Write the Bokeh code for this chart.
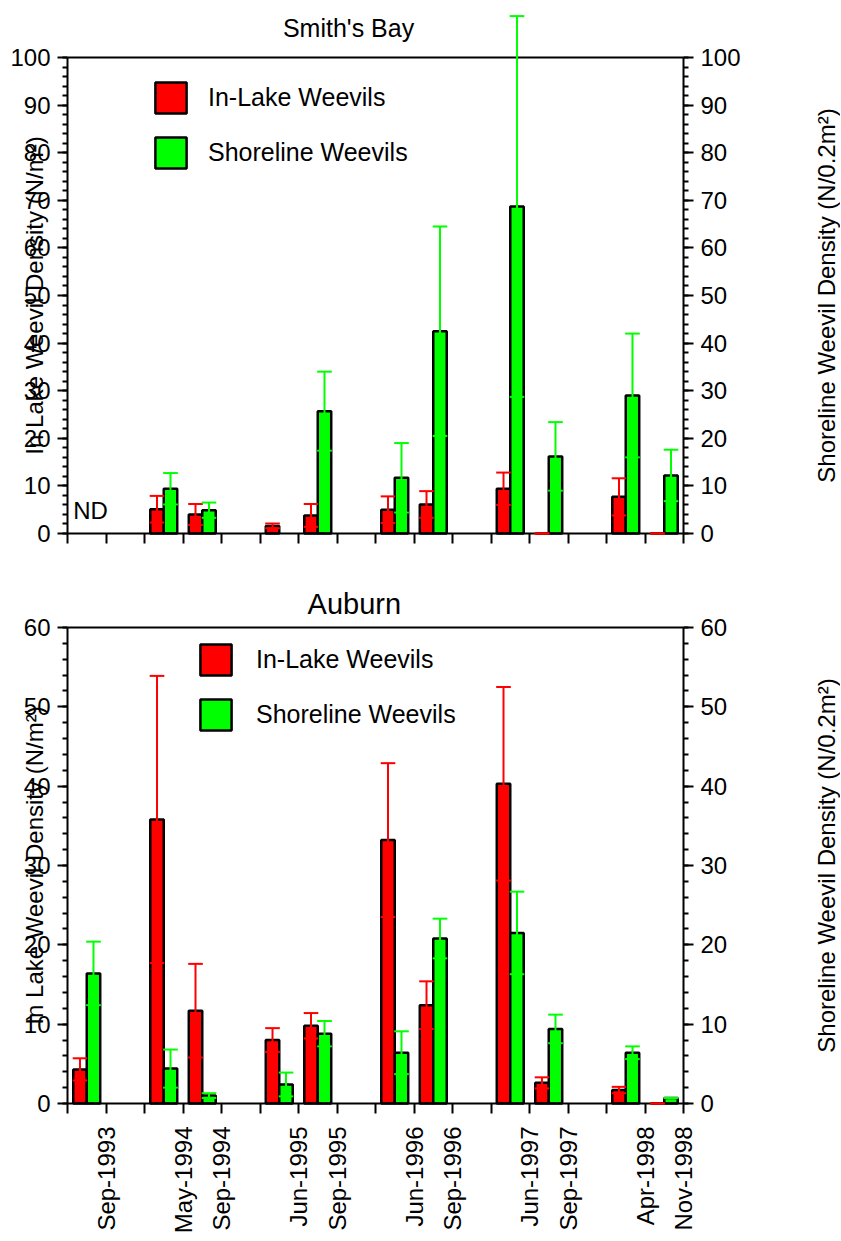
import math
import numpy as np
from bokeh.plotting import figure
from bokeh.models import (Range1d, LinearAxis, FixedTicker, SingleIntervalTicker,
                          Label, Legend, LegendItem, ColumnDataSource)
from bokeh.layouts import column
from bokeh.embed import file_html
from bokeh.resources import INLINE

# ---------------- data ----------------
dates = ["Sep-1993", "May-1994", "Sep-1994", "Jun-1995", "Sep-1995", "Jun-1996",
         "Sep-1996", "Jun-1997", "Sep-1997", "Apr-1998", "Nov-1998"]
# interval (between axis ticks 0..16) occupied by each sampling date
date_slot = [0, 2, 3, 5, 6, 8, 9, 11, 12, 14, 15]

nan = float("nan")
smith_inlake = [nan, 5.1, 4.0, 1.6, 3.8, 5.0, 6.1, 9.4, 0.0, 7.7, 0.0]
smith_inlake_se = [nan, 2.8, 2.2, 0.5, 2.4, 2.8, 2.8, 3.4, 0.0, 3.9, 0.0]
smith_shore = [nan, 9.4, 4.9, nan, 25.7, 11.7, 42.5, 68.7, 16.2, 29.0, 12.2]
smith_shore_se = [nan, 3.3, 1.6, nan, 8.3, 7.3, 22.0, 40.0, 7.2, 13.0, 5.4]

auburn_inlake = [4.3, 35.8, 11.7, 8.0, 9.8, 33.2, 12.4, 40.3, 2.6, 1.7, 0.0]
auburn_inlake_se = [1.4, 18.1, 5.9, 1.5, 1.6, 9.7, 3.0, 12.2, 0.7, 0.4, 0.0]
auburn_shore = [16.4, 4.4, 1.0, 2.4, 8.8, 6.4, 20.8, 21.5, 9.4, 6.4, 0.7]
auburn_shore_se = [4.0, 2.4, 0.3, 1.5, 1.6, 2.7, 2.5, 5.2, 1.8, 0.8, 0.0]

series_names = ["In-Lake Weevils", "Shoreline Weevils"]
left_label = "In Lake Weevil Density (N/m²)"
right_label = "Shoreline Weevil Density (N/0.2m²)"

# ---------------- style / layout ----------------
FONT = "Liberation Sans"
RED = "#ff0000"
GREEN = "#00ff00"
BAR_W = 0.35
CAP_W = 0.38
N_TICKS = 17
X_LAST = N_TICKS - 1
FIG_W = 840
LEFT = 67                      # px from figure edge to the date axis origin
PX_X = 616 / X_LAST            # px per date-axis unit
X_START = -LEFT / PX_X
X_END = (FIG_W - LEFT) / PX_X
LEFT_TITLE_X = (33.6 - LEFT) / PX_X
RIGHT_TITLE_X = X_LAST + 143 / PX_X


def style_yaxis(ax, ymax):
    ax.ticker = SingleIntervalTicker(interval=10, num_minor_ticks=5)
    ax.bounds = (0, ymax)
    ax.axis_line_width = 2
    ax.major_tick_line_width = 2
    ax.minor_tick_line_width = 2
    ax.major_tick_out = 10
    ax.major_tick_in = 0
    ax.minor_tick_out = 5
    ax.minor_tick_in = 0
    ax.major_label_standoff = 7
    ax.major_label_text_font = FONT
    ax.major_label_text_font_size = "24px"
    ax.major_label_text_color = "black"


def error_bars(p, xs, vals, errs, color):
    xs = np.asarray(xs, dtype=float)
    v = np.asarray(vals, dtype=float)
    e = np.asarray(errs, dtype=float)
    lo, hi = v - e, v + e
    src = ColumnDataSource(dict(x=xs, xl=xs - CAP_W / 2, xr=xs + CAP_W / 2, lo=lo, hi=hi))
    for kw in (dict(x0="x", y0="lo", x1="x", y1="hi"),
               dict(x0="xl", y0="hi", x1="xr", y1="hi"),
               dict(x0="xl", y0="lo", x1="xr", y1="lo")):
        r = p.segment(source=src, line_color=color, line_width=2, **kw)
        r.level = "annotation"


def text(p, x, y, s, size, angle=0.0, align="center"):
    p.add_layout(Label(x=x, y=y, text=s, angle=angle, text_align=align,
                       text_baseline="middle", text_font=FONT, text_font_size=size,
                       text_color="black"))


def panel(title, title_size, title_x, title_y, ymax, px_y, zero_px, height,
          inl, inl_se, sho, sho_se, show_labels, legend_xy, leg_standoff, nd_text=None):
    y_start = -(height - zero_px) / px_y
    y_end = zero_px / px_y
    p = figure(width=FIG_W, height=height, x_range=Range1d(X_START, X_END),
               y_range=Range1d(y_start, y_end), output_backend="svg",
               toolbar_location=None, min_border=0)
    p.outline_line_color = None
    p.xgrid.visible = False
    p.ygrid.visible = False
    p.background_fill_color = "white"
    p.border_fill_color = "white"

    slots = np.asarray(date_slot, dtype=float)
    x_red = slots + 0.325
    x_green = slots + 0.675

    r_red = p.vbar(x=x_red, top=inl, width=BAR_W, bottom=0, fill_color=RED,
                   line_color="black", line_width=2.5)
    r_green = p.vbar(x=x_green, top=sho, width=BAR_W, bottom=0, fill_color=GREEN,
                     line_color="black", line_width=2.5)
    error_bars(p, x_red, inl, inl_se, RED)
    error_bars(p, x_green, sho, sho_se, GREEN)

    # date axis
    xa = p.xaxis[0]
    xa.fixed_location = 0
    xa.ticker = FixedTicker(ticks=list(range(N_TICKS)), minor_ticks=[])
    xa.bounds = (0, X_LAST)
    overrides = {i: "" for i in range(N_TICKS)}
    if show_labels:
        for s, d in zip(date_slot, dates):
            overrides[s + 1] = d
    xa.major_label_overrides = overrides
    xa.major_label_orientation = math.pi / 2
    xa.major_label_text_font = FONT
    xa.major_label_text_font_size = "24px"
    xa.major_label_text_color = "black"
    xa.major_label_standoff = 13
    xa.axis_line_width = 2
    xa.major_tick_line_width = 2
    xa.major_tick_out = 10
    xa.major_tick_in = 0

    # left and right density axes
    la = p.yaxis[0]
    la.fixed_location = 0
    style_yaxis(la, ymax)
    ra = LinearAxis(fixed_location=X_LAST)
    style_yaxis(ra, ymax)
    p.add_layout(ra, "right")

    # top frame line
    p.segment(x0=[0], y0=[ymax], x1=[X_LAST], y1=[ymax], line_color="black", line_width=2)

    # axis titles (the left one overlaps the tick numbers, as in the original)
    text(p, LEFT_TITLE_X, ymax / 2, left_label, "24px", angle=math.pi / 2)
    text(p, RIGHT_TITLE_X, ymax / 2, right_label, "24px", angle=math.pi / 2)

    text(p, title_x, title_y, title, title_size)
    if nd_text:
        text(p, 0.15, 4.8, nd_text, "24px", align="left")

    leg = Legend(items=[LegendItem(label=series_names[0], renderers=[r_red]),
                        LegendItem(label=series_names[1], renderers=[r_green])],
                 location=legend_xy, glyph_width=39, glyph_height=39, spacing=16,
                 padding=0, margin=0, label_standoff=leg_standoff, label_text_font=FONT,
                 label_text_font_size="25px", label_text_color="black",
                 border_line_color=None, background_fill_alpha=0)
    p.add_layout(leg)
    return p


p1 = panel("Smith's Bay", "25px", 7.3, 106.1, 100, 4.76, 533, 583,
           smith_inlake, smith_inlake_se, smith_shore, smith_shore_se,
           show_labels=False, legend_xy=(151, 411), leg_standoff=18, nd_text="ND")
p2 = panel("Auburn", "29px", 7.45, 62.9, 60, 476 / 60, 520, 657,
           auburn_inlake, auburn_inlake_se, auburn_shore, auburn_shore_se,
           show_labels=True, legend_xy=(196, 506), leg_standoff=21)

layout = column(p1, p2, spacing=0)
open("out.html", "w").write(file_html(layout, INLINE))
